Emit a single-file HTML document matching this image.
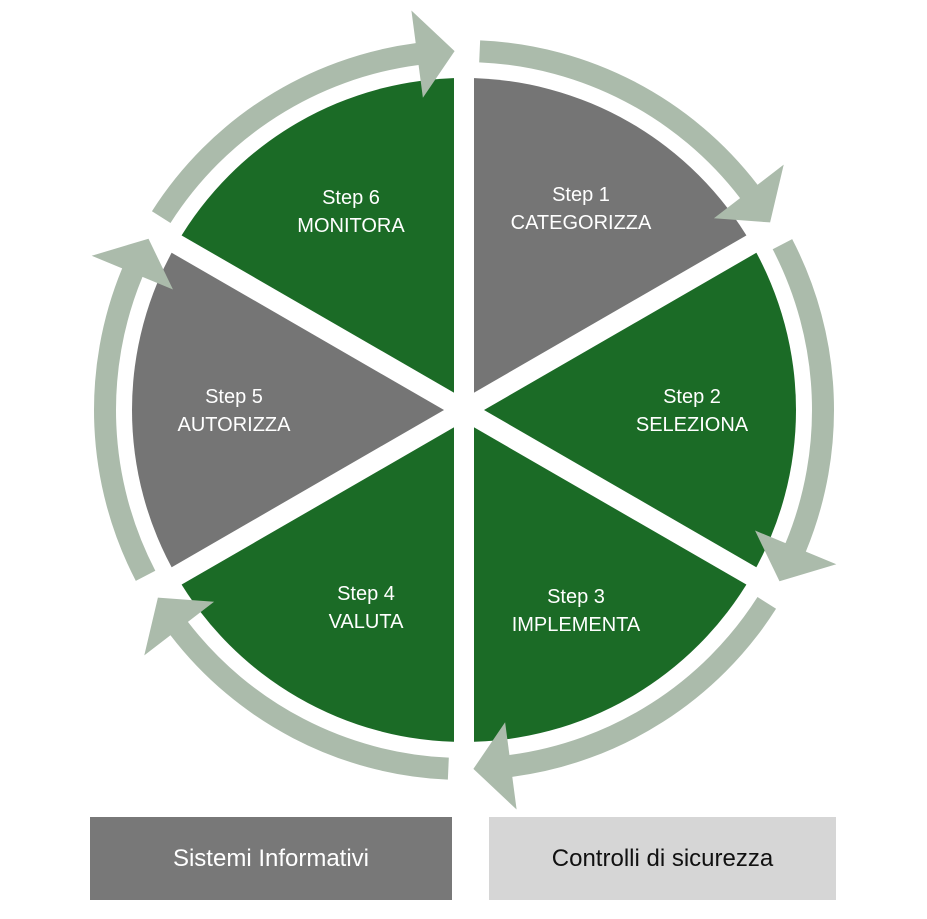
<!DOCTYPE html>
<html><head><meta charset="utf-8"><style>
html,body{margin:0;padding:0;background:#fff;width:927px;height:919px;overflow:hidden}
svg{position:absolute;left:0;top:0}
.box{position:absolute;top:817px;height:83px;display:flex;align-items:center;justify-content:center;font-family:"Liberation Sans",sans-serif;font-size:24px}
</style></head><body>
<svg id="s" width="927" height="919" xmlns="http://www.w3.org/2000/svg">
<g id="w"></g><g id="a"></g>
<g font-family="Liberation Sans, sans-serif" font-size="20" fill="#fff" text-anchor="middle">
<text x="581" y="201">Step 1</text><text x="581" y="229">CATEGORIZZA</text>
<text x="692" y="403">Step 2</text><text x="692" y="431">SELEZIONA</text>
<text x="576" y="603">Step 3</text><text x="576" y="631">IMPLEMENTA</text>
<text x="366" y="600">Step 4</text><text x="366" y="628">VALUTA</text>
<text x="234" y="403">Step 5</text><text x="234" y="431">AUTORIZZA</text>
<text x="351" y="204">Step 6</text><text x="351" y="232">MONITORA</text>
</g>
</svg>
<div class="box" style="left:90px;width:362px;background:#787878;color:#fff">Sistemi Informativi</div>
<div class="box" style="left:489px;width:347px;background:#d6d6d6;color:#111">Controlli di sicurezza</div>
<script>
var cx=464,cy=410,R=332,NS="http://www.w3.org/2000/svg";
function P(r,a){a=a*Math.PI/180;return [cx+r*Math.cos(a),cy+r*Math.sin(a)];}
var cols=["#757575","#1b6b26","#1b6b26","#1b6b26","#757575","#1b6b26"];
var w=document.getElementById("w"),ag=document.getElementById("a");
for(var k=0;k<6;k++){
 var b=-90+60*k,p1=P(R,b),p2=P(R,b+60);
 var e=document.createElementNS(NS,"path");
 e.setAttribute("d","M"+cx+","+cy+"L"+p1+"A"+R+","+R+" 0 0 1 "+p2+"Z");
 e.setAttribute("fill",cols[k]);w.appendChild(e);
 var l=document.createElementNS(NS,"line");
 var q=P(R+5,b);l.setAttribute("x1",cx);l.setAttribute("y1",cy);l.setAttribute("x2",q[0]);l.setAttribute("y2",q[1]);
 l.setAttribute("stroke","#fff");l.setAttribute("stroke-width","20");ag.appendChild(l);
 // arrow
 var ro=370,ri=348,rm=359,s=b+2.5,t=b+60-1.5,h=t-6;
 var d="M"+P(ro,s)+"A"+ro+","+ro+" 0 0 1 "+P(ro,h)+"L"+P(rm+44,h)+"L"+P(rm,t)+"L"+P(rm-44,h)+"L"+P(ri,h)+"A"+ri+","+ri+" 0 0 0 "+P(ri,s)+"Z";
 var ar=document.createElementNS(NS,"path");ar.setAttribute("d",d);ar.setAttribute("fill","#abbbab");ag.appendChild(ar);
}
</script>
</body></html>
